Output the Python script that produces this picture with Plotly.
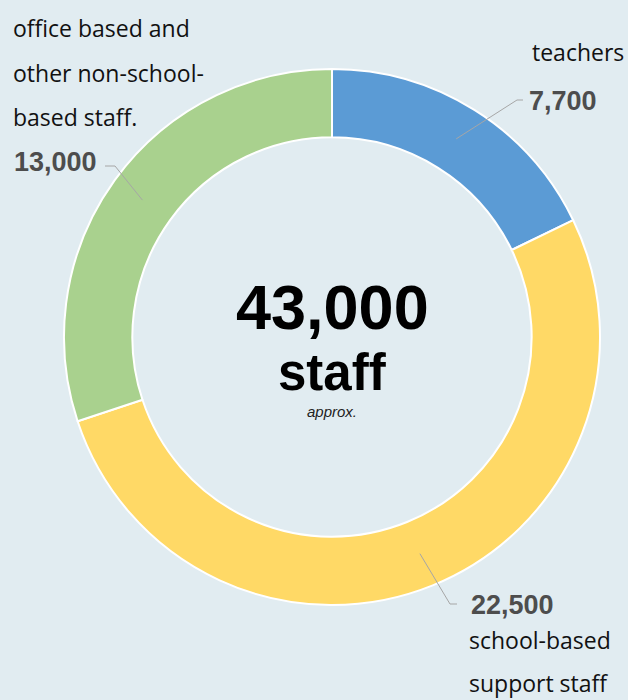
import math
import plotly.graph_objects as go

# ---- data ----
categories = ["teachers", "school-based support staff", "office based and other non-school-based staff."]
values = [7700, 22500, 13000]
value_labels = ["7,700", "22,500", "13,000"]
colors = ["#5b9bd5", "#ffd966", "#a9d18e"]
total_label = "43,000"

W, H = 628, 700
BG = "#e1ecf1"

# donut geometry (pixels)
CX, CY, R = 332, 337, 268
HOLE = 0.745


def px(x):
    return x / W


def py(y):
    return 1 - y / H


fig = go.Figure()
fig.add_trace(go.Pie(
    values=values,
    labels=categories,
    marker=dict(colors=colors, line=dict(color="white", width=2)),
    hole=HOLE,
    sort=False,
    direction="clockwise",
    rotation=0,
    textinfo="none",
    hoverinfo="label+value",
    showlegend=False,
    domain=dict(x=[px(CX - R), px(CX + R)], y=[py(CY + R), py(CY - R)]),
))

# leader lines: start at the middle of each slice (computed from data)
tot = sum(values)
cum = 0
mids = []
for v in values:
    mids.append((cum + v / 2) / tot * 2 * math.pi)
    cum += v
r_mid = R * (1 + HOLE) / 2
elbows = [((517, 100), (523, 100)), ((450, 604), (457, 604)), ((115, 166), (105, 166))]
for ang, (e1, e2) in zip(mids, elbows):
    sx = CX + r_mid * math.sin(ang)
    sy = CY - r_mid * math.cos(ang)
    path = f"M {px(sx)},{py(sy)} L {px(e1[0])},{py(e1[1])} L {px(e2[0])},{py(e2[1])}"
    fig.add_shape(type="path", path=path, xref="paper", yref="paper",
                  line=dict(color="#a6a6a6", width=1))

DESC_FONT = dict(family="Open Sans", size=23, color="#111111")
NUM_FONT = dict(family="Liberation Sans", size=27, color="#4d4d4d", weight="bold")


def ann(text, x, y, font, xanchor="left"):
    fig.add_annotation(text=text, x=px(x), y=py(y), xref="paper", yref="paper",
                       xanchor=xanchor, yanchor="middle", showarrow=False, font=font)


# office/other labels
ann("office based and", 11, 28, DESC_FONT)
ann("other non-school-", 11, 73, DESC_FONT)
ann("based staff.", 11, 117, DESC_FONT)
ann(value_labels[2], 12, 162, NUM_FONT)

# teachers
ann("teachers", 626, 52, DESC_FONT, xanchor="right")
ann(value_labels[0], 527, 101, NUM_FONT)

# school-based support staff
ann(value_labels[1], 469, 605, NUM_FONT)
ann("school-based", 467, 640, DESC_FONT)
ann("support staff", 467, 683, DESC_FONT)

# centre text
ann(total_label, CX, 307, dict(family="Liberation Sans", size=63, color="#000000", weight="bold"), xanchor="center")
ann("staff", CX, 373, dict(family="Liberation Sans", size=51, color="#000000", weight="bold"), xanchor="center")
ann("<i>approx.</i>", CX, 411, dict(family="Liberation Sans", size=15, color="#222222"), xanchor="center")

fig.update_layout(
    width=W, height=H,
    margin=dict(l=0, r=0, t=0, b=0),
    paper_bgcolor=BG, plot_bgcolor=BG,
)

fig.write_html("out.html", config={"displayModeBar": False},
               post_script="document.body.style.margin='0';document.body.style.background='" + BG + "';")
